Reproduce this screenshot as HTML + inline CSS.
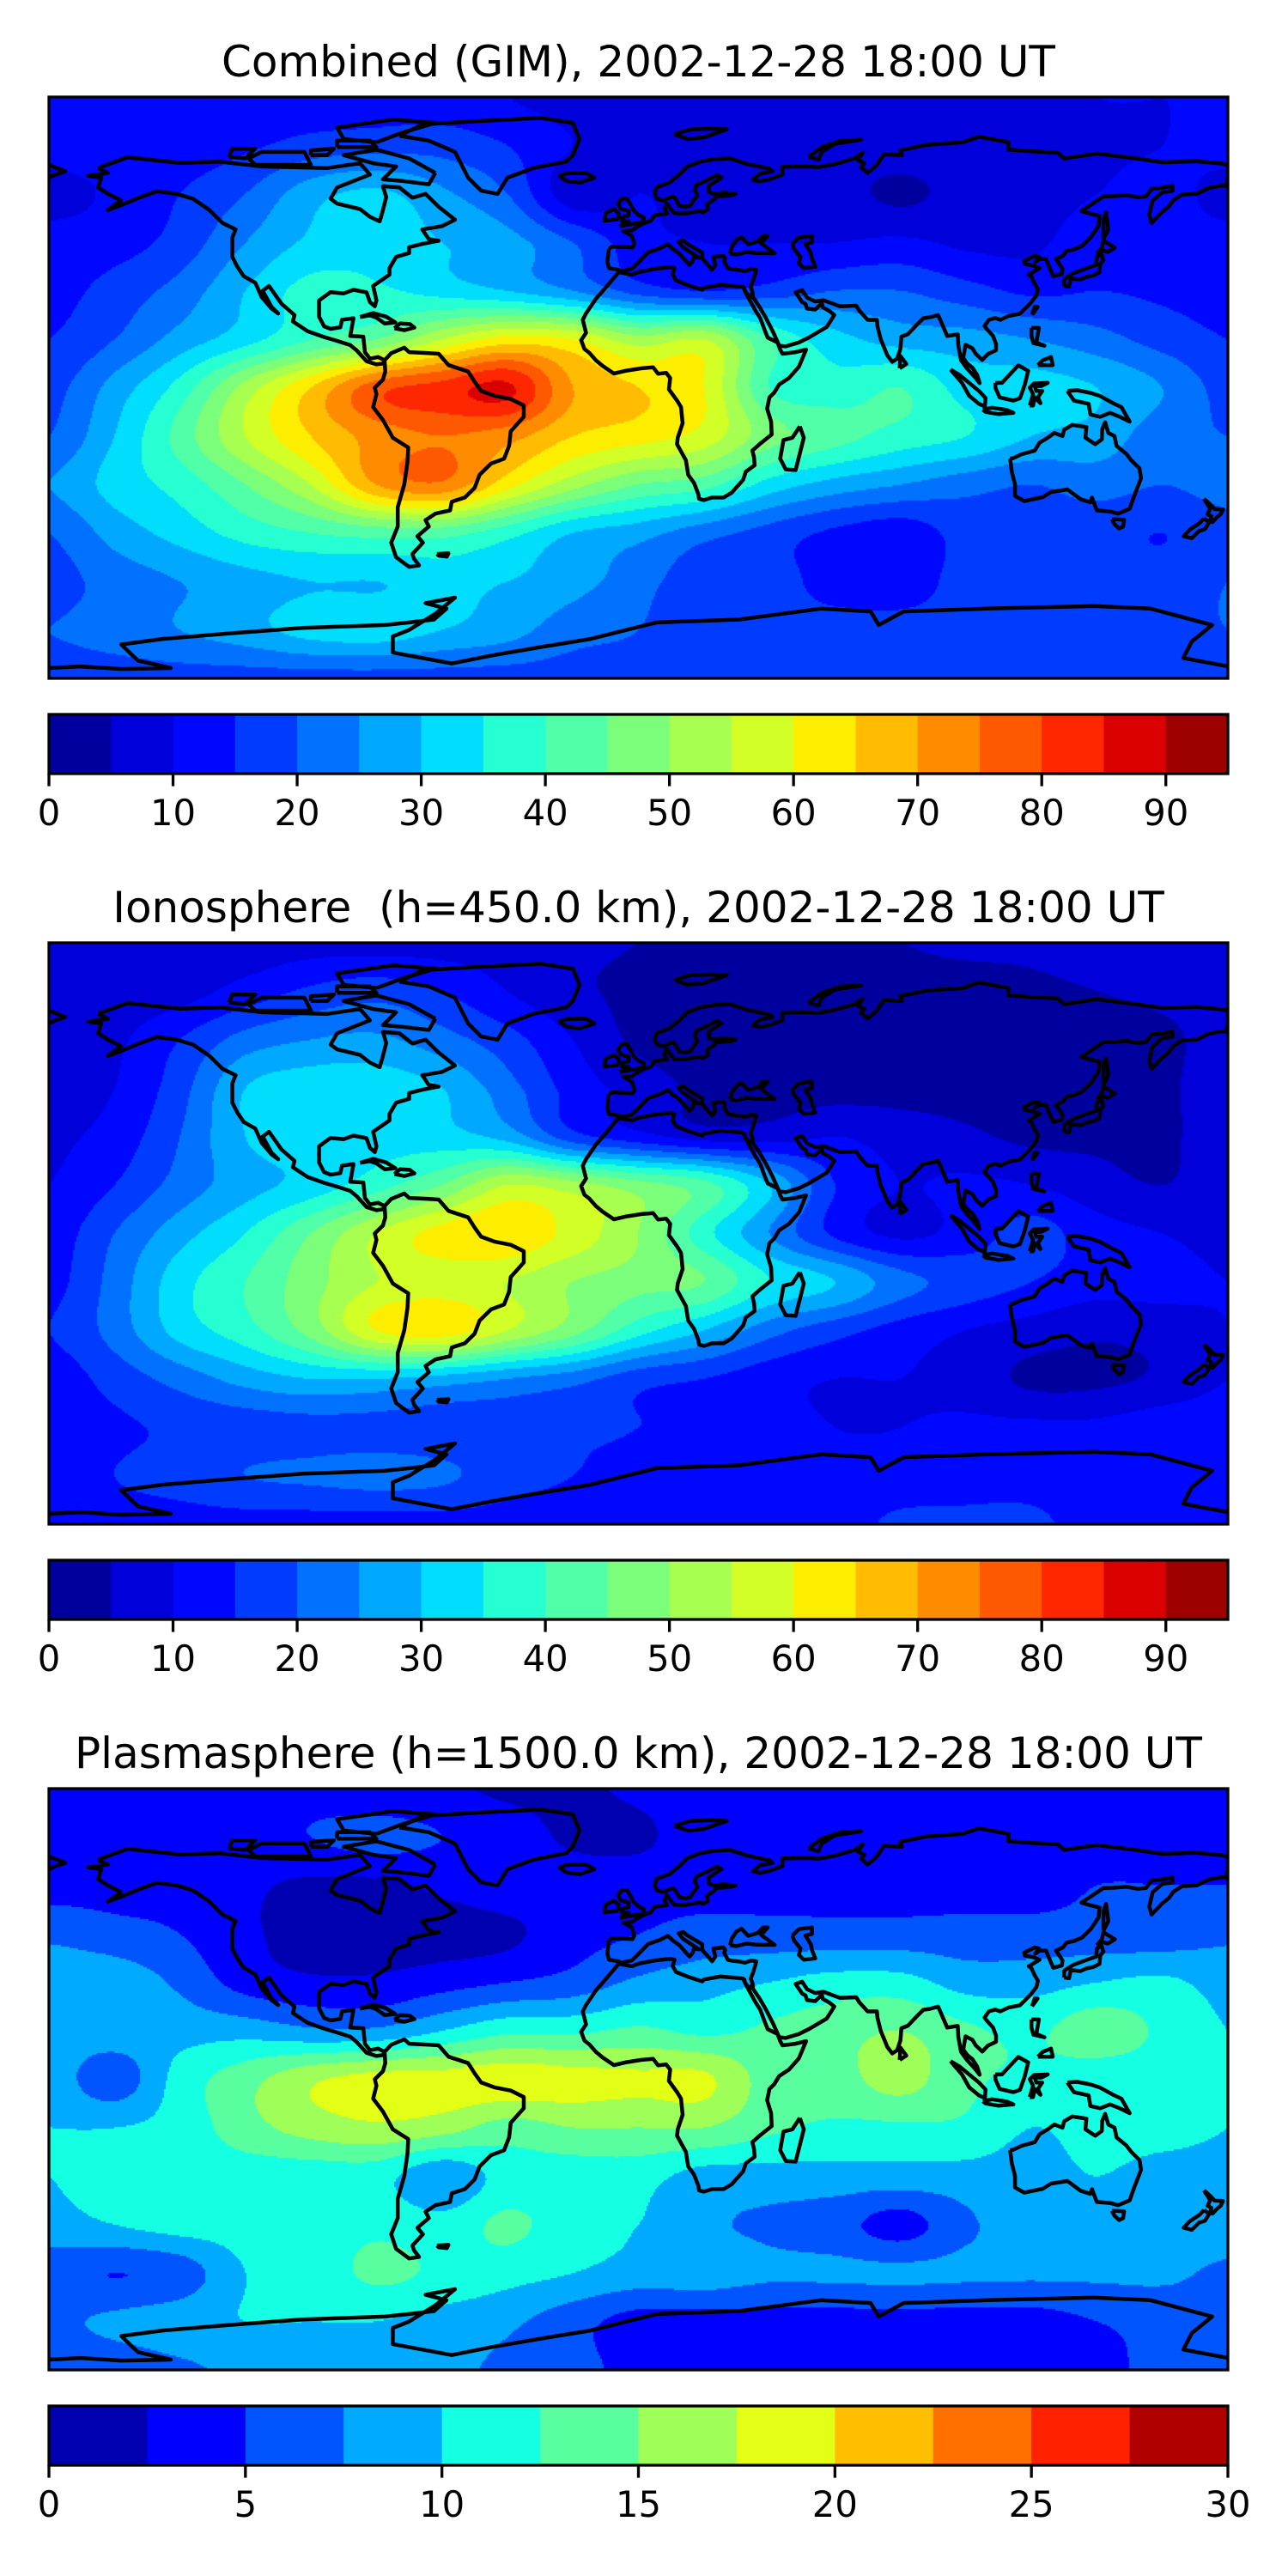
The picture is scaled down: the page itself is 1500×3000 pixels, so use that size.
<!DOCTYPE html>
<html><head><meta charset="utf-8"><title>TEC maps 2002-12-28 18:00 UT</title>
<style>
html,body{margin:0;padding:0;background:#fff;}
#page{position:relative;width:1500px;height:3000px;overflow:hidden;background:#fff;}
canvas{position:absolute;left:57px;}
svg{position:absolute;left:0;top:0;}
text{font-family:"DejaVu Sans","Liberation Sans",sans-serif;fill:#000;}
</style></head>
<body>
<div id="page">
<canvas id="c0" width="1373" height="677" style="top:113px"></canvas>
<canvas id="c1" width="1373" height="677" style="top:1098px"></canvas>
<canvas id="c2" width="1373" height="677" style="top:2083px"></canvas>
<svg id="ov" width="1500" height="3000" xmlns="http://www.w3.org/2000/svg"></svg>
</div>
<script>
// ---------- data: grid latitudes (rows) and longitudes (cols) ----------
const gridLats = [90,75,60,45,30,15,0,-15,-30,-45,-60,-75,-90];
const gridLons = [-180,-160,-140,-120,-100,-80,-60,-40,-20,0,20,40,60,80,100,120,140,160,180];

const combinedTEC = [
[10,10,10,10,11,12,12,10,8,8,8,8,8,8,8,9,10,10,10],
[12,12,12,14,17,18,18,15,10,8,8,7,7,8,8,8,9,10,12],
[8,11,15,20,28,31,26,20,7,10,8,8,7,4,7,8,10,12,8],
[12,13,17,25,31,33,30,27,20,12,10,10,10,11,9,9,13,12,12],
[13,17,22,30,37,36,33,30,25,18,15,17,20,20,17,14,15,14,13],
[15,20,27,33,40,45,55,62,60,52,55,40,32,28,27,25,22,18,15],
[18,27,37,52,65,78,82,86,70,65,60,40,37,40,33,32,30,25,18],
[20,30,42,55,65,72,75,72,65,62,58,47,42,38,35,30,28,22,20],
[25,32,37,45,55,70,74,62,52,45,42,33,28,25,22,20,22,20,22],
[20,27,32,37,40,42,42,37,30,27,22,18,14,12,17,18,17,15,18],
[18,22,25,28,30,30,32,30,27,22,17,17,13,12,17,17,17,17,20],
[20,22,25,28,32,33,30,27,22,20,18,17,17,17,17,17,17,18,20],
[18,18,18,18,18,18,18,18,18,19,19,18,17,17,17,17,17,18,18]
];
const ionosphereTEC = [
[7,7,7,7,8,8,8,8,6,5,5,5,5,5,6,6,7,7,7],
[7,7,8,12,16,18,15,10,6,4,3,3,3,3,3,4,5,6,7],
[7,9,15,22,25,26,22,17,10,4,3,3,3,3,3,3,3,4,7],
[8,10,18,30,33,33,30,22,13,8,4,3,3,3,3,3,3,4,8],
[9,12,20,30,33,33,32,28,17,12,8,8,10,8,6,4,4,4,8],
[10,15,22,28,32,38,45,55,52,47,42,30,15,10,11,10,7,5,8],
[12,20,28,35,45,55,62,64,58,50,37,25,14,9,12,17,12,10,8],
[13,22,33,40,48,55,57,55,50,47,45,35,30,22,18,15,12,12,10],
[15,22,32,38,47,60,63,55,47,37,30,22,17,13,10,8,6,7,10],
[12,17,22,27,30,30,28,25,22,17,15,12,10,10,8,4,4,6,10],
[12,14,16,17,18,18,17,17,16,15,13,12,10,10,11,11,11,13,13],
[12,15,17,20,21,22,21,17,15,14,12,12,12,12,13,13,12,12,12],
[13,13,13,13,13,13,13,13,13,13,13,13,13,16,16,16,13,13,13]
];
const plasmasphereTEC = [
[4,4,4,4,4,3,3,2,2,3,4,4,4,4,4,4,4,4,4],
[4,4,4,4,5,6,5,4,2,2,4,4,4,4,4,4,4,4,4],
[4,4,4,3,2,2,3,4,4,4,4,4,4,4,4,4,5,5,5],
[7,6,5,3,1.5,1.5,1.5,2,4,5,6,6,6,6,6,6,6,6,7],
[9,9,7,4,3,3,4,5,6,8,9,10,11,11,9,9,10,10.5,9],
[9,9,9,9,8,8,10,12,12,13,12,13,14,15,13,12,14,12,10],
[9,6,11,14,17,18.5,18.5,19,18.5,18,18,14,14,16,13,12,11,11,10],
[10,10,11,14,16,17,16,14,15,15,15,13,12,12,12,10,11,11,10],
[10,11,11,11,11,11,8,11,11,11,9,9,9,9,9,9,10,9,9],
[9,10,11,11,11,12,11,13,11,10,8,7,6,4,7,9,9,9,9],
[6,5,6,10,11,13,12,11,10,9,9,8,8,8,8,8,8,8,7],
[7,8,9,10,10,10,9,8,6,4,4,4,4,4,4,4,5,6,7],
[6,6,7,8,8,8,8,7,6,4,4,4,4,4,4,4,4,6,6]
];
const levelsA = [0,5,10,15,20,25,30,35,40,45,50,55,60,65,70,75,80,85,90,95];
const levelsB = [0,2.5,5,7.5,10,12.5,15,17.5,20,22.5,25,27.5,30];
const ticksA = [0,10,20,30,40,50,60,70,80,90];
const ticksB = [0,5,10,15,20,25,30];
const titles = ["Combined (GIM), 2002-12-28 18:00 UT",
 "Ionosphere  (h=450.0 km), 2002-12-28 18:00 UT",
 "Plasmasphere (h=1500.0 km), 2002-12-28 18:00 UT"];

// ---------- coastlines (lon, lat) ----------
const coasts = {
"north-america":[[-165,68],[-156,71.3],[-140,69.6],[-128,70],[-115,68.5],[-95,68],[-85,69.5],[-82,66],[-87,64],[-92,62],[-94,58.5],[-92,57],[-85,55.3],[-82,52.9],[-79,51.5],[-78,55],[-77,59],[-78,62.4],[-73,62],[-69,58.8],[-65,60],[-61,56],[-56,52],[-60,50],[-66,49],[-64,46],[-61,45.5],[-66,44.5],[-70,43.5],[-70,41.7],[-74,40.5],[-76,37],[-76,35],[-81,31.5],[-80,27],[-80.5,25.2],[-82,26.5],[-83,29.5],[-87,30.3],[-90,29.2],[-94,29.6],[-97.5,27],[-97.5,22],[-96,19],[-94,18.2],[-91,18.7],[-90.5,21],[-87,21.5],[-88,16],[-84,15.8],[-83.5,11],[-82,9],[-79.5,9.5],[-77.5,8.5],[-78,7.5],[-80,7.2],[-83,8.2],[-86,11.5],[-88,13.2],[-92,14.5],[-96,15.7],[-101,17.5],[-105.5,20.5],[-105,22.5],[-109,26],[-112.8,31.5],[-114.7,30],[-112,25],[-110,23],[-112,24.5],[-115,28],[-117,32.5],[-120.5,34.5],[-122.5,37.5],[-124,40.5],[-124,46.5],[-123,49],[-127,51],[-131,55],[-136,58.5],[-141,60],[-147,60.8],[-152,59],[-158,56.5],[-162,55],[-158,58],[-162,60],[-165,62],[-164,65],[-168,65.6],[-162,66.5],[-165,68]],
"greenland":[[-73,78],[-66,81.5],[-50,82.5],[-30,83.5],[-20,82],[-18,77],[-20,72],[-22,70],[-32,68],[-40,65],[-43,60],[-48,61],[-52,65],[-54,69],[-56,73],[-64,76.5],[-73,78]],
"baffin":[[-62,66.5],[-64,63],[-72,64],[-78,64.5],[-74,68.5],[-81,69.5],[-90,72],[-80,73.7],[-70,71],[-62,66.5]],
"ellesmere":[[-80,76],[-90,77],[-92,80.5],[-75,83],[-62,82],[-72,79],[-80,76]],
"victoria":[[-117,69],[-100,69],[-102,73],[-115,73],[-119,71],[-117,69]],
"banks":[[-125,71.5],[-120,71],[-117,74],[-124,74],[-125,71.5]],
"devon":[[-92,74.5],[-80,74.5],[-82,76.5],[-92,76.5],[-92,74.5]],
"somerset":[[-100,72],[-95,72],[-93,74],[-100,73.5],[-100,72]],
"south-america":[[-77.5,8.5],[-75.5,10.7],[-71.5,12.4],[-70,11],[-64,10.7],[-61,10.5],[-58,7],[-52,5],[-50,1.8],[-48,-1],[-44,-2.5],[-39,-3.5],[-35,-5.5],[-35,-9],[-39,-13.5],[-39.5,-18],[-41,-22],[-45,-23.5],[-48.5,-27],[-50,-31],[-53,-34],[-57,-35.3],[-57.5,-38],[-62,-39],[-65,-41],[-64,-43],[-67.5,-46],[-65.8,-48],[-69,-51.5],[-68.5,-53],[-67,-55],[-70,-55.5],[-74,-52.5],[-75.5,-48],[-73.5,-43],[-73.5,-37],[-71.5,-30],[-70.5,-23],[-70.3,-18.5],[-75,-15.5],[-78,-10],[-81,-6],[-80,-2],[-80.5,0],[-78,2.5],[-77.3,5],[-77.5,8.5]],
"africa":[[-6,35.8],[-10,31],[-13,27.5],[-16,23],[-17,21],[-16,17],[-17.5,14.7],[-16.5,12],[-15,10.8],[-13,8.5],[-11,6.8],[-7.5,4.4],[-4,5.2],[1,6],[4.5,6.3],[6,4.3],[8.5,4.6],[9.7,3],[9.3,-0.5],[11.8,-4],[13,-6],[13.5,-11],[12,-15.5],[11.8,-17.5],[14.5,-22.5],[15.2,-27],[17,-29.5],[18.3,-33],[18.5,-34.4],[20,-34.8],[22.5,-34],[26,-34],[28.5,-32.5],[32,-28.5],[32.8,-26],[35.5,-24],[35.3,-21.5],[34.8,-19.5],[37,-17.5],[40.7,-14.5],[40.5,-10.5],[39.3,-6.5],[40,-3],[41.5,-1.5],[43,1],[46,3],[49,6.5],[51.2,11.8],[48,11],[44,10.5],[43.3,11.8],[42.5,14],[39.5,15.5],[38.5,18],[37.2,21.5],[35.7,23.9],[33.5,28],[32.5,30],[32,31.2],[30,31.4],[25,31.8],[20,30.9],[19.5,30.3],[15.5,31.6],[11.5,33.2],[10.5,35],[11,37],[9.8,37.3],[5,36.8],[0,35.8],[-2,35],[-6,35.8]],
"madagascar":[[49.3,-12],[50.5,-15.5],[48,-25.5],[45,-25.3],[43.3,-22],[44.3,-16.2],[47,-15.5],[49.3,-12]],
"eurasia":[[-9,43],[-9.5,39],[-9,37],[-6,36.5],[-5.5,36],[-2,36.8],[0,38.8],[3,41.9],[6.5,43.1],[9,44.4],[10.5,43],[12.5,41.5],[15.6,38],[16.5,39],[17,40.5],[18.5,40.2],[16,41.9],[13.5,43.6],[12.3,45.2],[13.7,45.6],[15,44.5],[19.5,41.8],[19.5,40],[21,38.3],[22.5,36.5],[23.5,38],[22.9,40.5],[26,40.8],[26.5,40],[26.2,39.2],[27.3,37],[28.5,36.7],[30.5,36.5],[32.5,36.1],[34.5,36.8],[36,36.5],[35.6,35],[35,33],[34.3,31.2],[34.9,29.5],[35,28],[37,25],[39,21.5],[41,17.5],[43,13],[45,12.8],[49,14],[52,15.5],[55,17.3],[57.5,18.8],[59.8,22.5],[58.5,23.6],[56.3,24.9],[56,26.2],[54,24.2],[51.5,24.5],[51,26],[50,26.5],[48,29.5],[50,30.2],[51.5,27.9],[54,26.7],[56.5,27.1],[61.5,25.2],[66.5,25.4],[67.5,23.8],[70,21],[72.8,21],[73,19],[74,15],[76,10],[77.5,8],[79,9],[80,12],[80.3,15.8],[82.3,16.6],[85,19.5],[87,21.5],[89,21.8],[91.5,22.5],[92.3,20.7],[94.3,16],[97.5,16.5],[97.7,13],[98.5,8.5],[100.3,6],[103,3],[104.2,1.4],[103.4,4],[102,6.2],[100.5,7.4],[99.2,9.2],[99.9,13.3],[102,12.2],[103,10.5],[105,8.6],[106.7,10.4],[109.2,11.6],[109.2,13.5],[108.3,16],[106.5,18],[105.7,19.1],[107,21],[109,21.6],[110.5,21],[113,22.2],[116.5,22.9],[119.6,26],[121.5,28.5],[122,30.5],[121,32.2],[120,34.4],[119.2,35],[122.5,37],[120.5,37.8],[118,38.3],[117.8,39.2],[121,40.8],[122.3,40.5],[121.2,38.9],[122.5,39.8],[124.5,39.8],[125.3,37.7],[126.7,34.5],[129.3,35.2],[129.5,36.8],[128.3,38.7],[127.5,39.8],[129.7,40.9],[130.7,42.3],[133,42.8],[135.5,43.9],[138.2,46.6],[140.5,50.1],[140.8,53.2],[137.5,54],[135.3,54.7],[138,56.5],[142,59.2],[145,59.3],[149,59.6],[152.5,59],[155,59.2],[156.8,61.6],[160,61.9],[163,62.5],[163.2,61],[160,60.5],[157,57.9],[156,53.5],[156.7,51],[158.5,52.9],[160,54.5],[162,56.1],[163.3,58],[166,59.8],[170.5,60],[174,61.8],[177.5,62.5],[179.5,62.5],[180,65],[180,69],[178,69.4],[170.5,70.1],[160,69.8],[152,71],[140,72.5],[130,71],[128,72.8],[120,73.2],[113,73.7],[113,76],[104,77.7],[99,76],[88,75.2],[80,73.5],[80.5,72],[75,72.3],[72.8,69],[70,66.5],[68,68.3],[69,69.5],[67,70.5],[68.5,72.7],[66,71],[60,69.2],[55,68.3],[52,68.5],[44,68.4],[44,66],[40,64.5],[37,63.9],[35,64.4],[37,66.2],[41,67],[40,67.8],[33,69.3],[28,71],[23.5,70.8],[19,70],[15,68.5],[12.5,66],[9.5,63.5],[5.5,62],[5,60],[5.7,58.5],[7.5,58],[10.5,59.2],[11.3,58.5],[12.5,56.3],[14.5,56],[16,56.5],[16.5,57.5],[18,59.5],[17.2,61.4],[17.8,62.8],[21.3,64.4],[24,65.8],[25.4,65.1],[21.5,62.5],[21.5,60.6],[23,60],[26,60.4],[29.7,60],[28,59.5],[23.5,59.2],[23.4,58.5],[21.6,57.3],[21,56.8],[21.2,55.2],[19.7,54.3],[18.6,54.7],[14,53.9],[11,54],[10,55.2],[8.6,57.1],[8,55.5],[8.7,53.9],[5,53.4],[3.8,51.7],[1.6,50.9],[-1,49.4],[-1.9,48.7],[-4.6,48.5],[-2,47],[-1.2,44.5],[-1.8,43.4],[-8,43.7],[-9,43]],
"chukotka-west":[[-180,65],[-178,66],[-175,67],[-180,69]],
"sinai":[[32.3,31.2],[32.5,29.9],[34,28],[34.9,29.5]],
"black-sea":[[28,41.5],[28.5,43.5],[30,45.8],[31.5,46.6],[33.5,44.4],[36.5,45.3],[38,47],[39.5,47],[37.5,44.7],[41.6,41.6],[36,41.7],[33,42],[30,41.2],[28,41.5]],
"caspian":[[47,44.5],[49,46.5],[53,47],[53,45],[51,44.5],[52.7,41.7],[53,40],[54,37.4],[50.5,37],[49,38.5],[49.5,40.5],[47.5,43],[47,44.5]],
"britain":[[-5.7,50],[1.4,51.3],[1.7,52.7],[0,53.5],[-1.5,55],[-2,56],[-3.5,58.6],[-5,58.6],[-6.2,57],[-5.5,55.5],[-3,54.7],[-3,53.3],[-4.8,52.8],[-5,51.7],[-3,51.5],[-5.7,50]],
"ireland":[[-6,52.2],[-6,54],[-7.5,55.3],[-10,54],[-10.3,51.7],[-6,52.2]],
"iceland":[[-22,64],[-24,65.5],[-22,66.4],[-16,66.5],[-13.5,65],[-18,63.5],[-22,64]],
"honshu":[[130,31.5],[131.5,31.3],[132,33.8],[135,33.5],[136.8,34.3],[139,34.8],[140.8,35.7],[141,38.3],[142,39.5],[141.4,41.4],[140,40.5],[139.8,38],[137,37],[133,35.5],[131,34.3],[130,33.5],[130,31.5]],
"hokkaido":[[140,41.5],[141.5,42.6],[143.3,42],[145.5,43.3],[142,45.5],[141.5,43.3],[140,41.5]],
"sakhalin":[[142,46],[143.5,49],[142.8,54.3],[142,52],[142,46]],
"taiwan":[[120.2,22.6],[121.9,25],[121,25],[120.2,22.6]],
"sri-lanka":[[79.8,6],[81.8,7.3],[80,9.8],[79.8,6]],
"luzon":[[120,18.5],[122.3,18.5],[121.5,14],[124,13],[120.6,13.8],[120,16],[120,18.5]],
"mindanao":[[122,7],[126.5,7],[126,9.5],[123.5,8.5],[122,7]],
"borneo":[[109,1.5],[111,1.5],[116,6.9],[119,5.2],[118,1],[117.5,-0.5],[116.5,-3.3],[114.5,-4],[110.3,-3],[109,0],[109,1.5]],
"sumatra":[[95.3,5.6],[98,4],[104,-1],[106,-3.2],[105.8,-5.8],[104,-5],[101,-2.5],[98.8,1.5],[95.3,5.6]],
"java":[[105.2,-6.8],[108,-6.2],[112.5,-6.9],[114.5,-7.8],[110,-8.2],[106,-7.5],[105.2,-6.8]],
"sulawesi":[[119.5,-5.5],[120.5,-2],[119.5,0],[120.8,1.3],[125,1.5],[123,0.5],[121,0.5],[121.5,-1],[123.3,-1],[122,-3],[122.8,-4.8],[121,-3],[120.5,-5.5],[119.5,-5.5]],
"new-guinea":[[131,-1],[134,-0.8],[138,-1.6],[141,-2.6],[145,-4.8],[147.5,-6],[150,-10.5],[147,-9],[144,-7.8],[141,-9],[138,-8.3],[137.5,-5],[133,-4],[132,-2.5],[131,-1]],
"australia":[[113.5,-22],[114,-26],[115,-30],[115,-33.5],[117.8,-35.1],[123.5,-33.9],[126,-32.3],[131,-31.5],[135,-34.5],[138,-35.5],[138.5,-34],[140,-38],[144,-38.3],[146.5,-39],[150,-37.5],[151.3,-33.8],[153.5,-28],[153,-25],[150.5,-22.5],[149,-20.5],[146,-18],[145.4,-15],[143.5,-14],[142.5,-10.7],[141.6,-13],[141.5,-16],[139.5,-17.5],[136.5,-15.5],[136.8,-12.2],[132.5,-11.5],[130,-13],[129.5,-15],[127,-14],[125,-15.5],[122.5,-17],[121,-19.5],[117,-20.6],[114.5,-21.8],[113.5,-22]],
"tasmania":[[144.6,-40.7],[148.3,-40.9],[148,-43],[146.8,-43.6],[145.3,-42.2],[144.6,-40.7]],
"nz-north":[[172.7,-34.4],[174.5,-36],[176,-37.6],[178.5,-37.7],[177.8,-39.2],[176.8,-40],[175.3,-41.6],[174.6,-41.2],[175,-39.8],[173.8,-39.2],[174.6,-37.5],[172.7,-34.4]],
"nz-south":[[172.7,-40.5],[174.3,-41.7],[173,-43.8],[171.2,-44.4],[169,-46.6],[166.5,-46],[168.3,-44],[171.3,-42],[172.7,-40.5]],
"cuba":[[-85,21.9],[-81,23.1],[-77,22],[-74.2,20.2],[-77.5,19.9],[-80,21.7],[-82,22.4],[-85,21.9]],
"hispaniola":[[-74.5,18.4],[-72.8,19.9],[-69.8,19.7],[-68.4,18.6],[-71.5,17.8],[-74.5,18.4]],
"falklands":[[-61.5,-51.5],[-58,-51.3],[-58.5,-52.3],[-61,-52],[-61.5,-51.5]],
"svalbard":[[11,78.5],[16,80],[22,80.2],[27,80],[20,77.5],[15,77],[11,78.5]],
"novaya-zemlya":[[52,71.5],[56,74.5],[62,76.5],[68,76.8],[60,75.5],[56,73],[55,70.6],[52,71.5]],
"antarctica":[[-180,-86.8],[-170.4,-86.3],[-157.9,-87.1],[-142.8,-86.8],[-152.8,-84.5],[-155.4,-82],[-157.9,-79.5],[-145.3,-77.8],[-125.2,-76.1],[-102.6,-74.4],[-77.4,-73.5],[-70,-72.7],[-62.4,-71.8],[-58.6,-68.4],[-65,-66.7],[-56,-65],[-62,-70],[-70,-75],[-75,-77],[-75,-82],[-57,-85.4],[-44.7,-82.9],[-29.7,-80.3],[-14.6,-77.8],[5.5,-72.7],[30.7,-71.8],[55.8,-68.4],[70.9,-69.3],[73.4,-73.5],[81,-69.3],[106.1,-68.4],[138.8,-67.6],[156.4,-68.4],[175.2,-73.5],[169,-78.6],[166.4,-83.7],[180,-86.3]]
};

// ---------- layout ----------
const MAP_X = 57, MAP_W = 1373, MAP_H = 677;
const panelTops = [113, 1098, 2083];
const NS = "http://www.w3.org/2000/svg";

function jet(t){
  function seg(pts){ for(let i=1;i<pts.length;i++){ if(t<=pts[i][0]){ const a=pts[i-1],b=pts[i]; return a[1]+(b[1]-a[1])*(t-a[0])/(b[0]-a[0]); } } return pts[pts.length-1][1]; }
  const r=seg([[0,0],[0.35,0],[0.66,1],[0.89,1],[1,0.5]]);
  const g=seg([[0,0],[0.125,0],[0.375,1],[0.64,1],[0.91,0],[1,0]]);
  const b=seg([[0,0.5],[0.11,1],[0.34,1],[0.65,0],[1,0]]);
  return [Math.round(r*255),Math.round(g*255),Math.round(b*255)];
}
function levelColors(levels){ const n=levels.length-1; const out=[]; for(let i=0;i<n;i++) out.push(jet((i+0.5)/n)); return out; }
function cr(p0,p1,p2,p3,t){ return 0.5*((2*p1)+(-p0+p2)*t+(2*p0-5*p1+4*p2-p3)*t*t+(-p0+3*p1-3*p2+p3)*t*t*t); }
function sample(grid,lon,lat){
  const nr=gridLats.length, nc=gridLons.length;
  const gx=(lon-gridLons[0])/(gridLons[1]-gridLons[0]);
  const gy=(gridLats[0]-lat)/(gridLats[0]-gridLats[1]);
  const ix=Math.min(nc-2,Math.max(0,Math.floor(gx))), iy=Math.min(nr-2,Math.max(0,Math.floor(gy)));
  const tx=gx-ix, ty=gy-iy;
  const row=j=>{ const r=grid[Math.min(nr-1,Math.max(0,j))]; const g=i=>r[Math.min(nc-1,Math.max(0,i))];
    return cr(g(ix-1),g(ix),g(ix+1),g(ix+2),tx); };
  return cr(row(iy-1),row(iy),row(iy+1),row(iy+2),ty);
}
function xOf(lon){ return MAP_X + (lon+180)/360*MAP_W; }
function yOf(lat,top){ return top + (90-lat)/180*MAP_H; }

function drawField(canvasId, grid, levels){
  const cv=document.getElementById(canvasId), ctx=cv.getContext("2d");
  const img=ctx.createImageData(MAP_W,MAP_H), cols=levelColors(levels);
  const step=levels[1]-levels[0], n=levels.length-1, S=2;
  for(let py=0;py<MAP_H;py+=S){
    const lat=90-(py+S/2)/MAP_H*180;
    for(let px=0;px<MAP_W;px+=S){
      const lon=(px+S/2)/MAP_W*360-180;
      const v=sample(grid,lon,lat);
      let k=Math.floor((v-levels[0])/step); k=Math.max(0,Math.min(n-1,k));
      const c=cols[k];
      for(let dy=0;dy<S&&py+dy<MAP_H;dy++) for(let dx=0;dx<S&&px+dx<MAP_W;dx++){
        const o=((py+dy)*MAP_W+(px+dx))*4; img.data[o]=c[0]; img.data[o+1]=c[1]; img.data[o+2]=c[2]; img.data[o+3]=255; }
    }
  }
  ctx.putImageData(img,0,0);
}

const ov=document.getElementById("ov");
const defs=document.createElementNS(NS,"defs"); ov.appendChild(defs);

function buildPanel(idx, grid, levels, ticks, names){
  const top=panelTops[idx];
  drawField("c"+idx, grid, levels);
  const t=document.createElementNS(NS,"text");
  
  
  t.setAttribute("x", MAP_X+MAP_W/2); t.setAttribute("y", top-24);
  t.setAttribute("text-anchor","middle"); t.setAttribute("font-size","50");
  t.setAttribute("style","white-space:pre"); t.textContent=titles[idx];
  ov.appendChild(t);
  const cp=document.createElementNS(NS,"clipPath"); cp.setAttribute("id","clip"+idx);
  const cr2=document.createElementNS(NS,"rect"); cr2.setAttribute("x",MAP_X); cr2.setAttribute("y",top); cr2.setAttribute("width",MAP_W); cr2.setAttribute("height",MAP_H);
  cp.appendChild(cr2); defs.appendChild(cp);
  const g=document.createElementNS(NS,"g"); g.setAttribute("clip-path","url(#clip"+idx+")");
  
  
  for(const key in coasts){
    const pts=coasts[key];
    let d=""; pts.forEach((p,i)=>{ d+=(i?"L":"M")+xOf(p[0]).toFixed(1)+" "+yOf(p[1],top).toFixed(1); });
    const path=document.createElementNS(NS,"path");
    
    
    path.setAttribute("d",d); path.setAttribute("fill","none"); path.setAttribute("stroke","#000");
    path.setAttribute("stroke-width","4.5"); path.setAttribute("stroke-linejoin","round");
    g.appendChild(path);
  }
  ov.appendChild(g);
  const fr=document.createElementNS(NS,"rect");
  
  
  fr.setAttribute("x",MAP_X); fr.setAttribute("y",top); fr.setAttribute("width",MAP_W); fr.setAttribute("height",MAP_H);
  fr.setAttribute("fill","none"); fr.setAttribute("stroke","#000"); fr.setAttribute("stroke-width","3.3");
  ov.appendChild(fr);
  const cbTop=top+719, cbH=69, vmin=levels[0], vmax=levels[levels.length-1];
  const cx=v=>MAP_X+(v-vmin)/(vmax-vmin)*MAP_W;
  const cols=levelColors(levels);
  const cbg=document.createElementNS(NS,"g");
  
  
  for(let i=0;i<levels.length-1;i++){
    const r=document.createElementNS(NS,"rect");
    
    
    const x0=cx(levels[i]), x1=cx(levels[i+1]);
    r.setAttribute("x",x0); r.setAttribute("y",cbTop); r.setAttribute("width",x1-x0+0.6); r.setAttribute("height",cbH);
    r.setAttribute("fill","rgb("+cols[i].join(",")+")");
    cbg.appendChild(r);
  }
  const cf=document.createElementNS(NS,"rect");
  cf.setAttribute("x",MAP_X); cf.setAttribute("y",cbTop); cf.setAttribute("width",MAP_W); cf.setAttribute("height",cbH);
  cf.setAttribute("fill","none"); cf.setAttribute("stroke","#000"); cf.setAttribute("stroke-width","3.3");
  cbg.appendChild(cf);
  ticks.forEach(v=>{
    const x=cx(v);
    const ln=document.createElementNS(NS,"line");
    
    
    ln.setAttribute("x1",x); ln.setAttribute("x2",x); ln.setAttribute("y1",cbTop+cbH); ln.setAttribute("y2",cbTop+cbH+14.6);
    ln.setAttribute("stroke","#000"); ln.setAttribute("stroke-width","3.3");
    cbg.appendChild(ln);
    const tl=document.createElementNS(NS,"text");
    
    
    tl.setAttribute("x",x); tl.setAttribute("y",cbTop+cbH+60); tl.setAttribute("text-anchor","middle");
    tl.setAttribute("font-size","41.7"); tl.textContent=String(v);
    cbg.appendChild(tl);
  });
  ov.appendChild(cbg);
}
buildPanel(0, combinedTEC, levelsA, ticksA, {title:'combined-title',coast:'combined-coastlines',frame:'combined-map-frame',cbar:'combined-colorbar'});
buildPanel(1, ionosphereTEC, levelsA, ticksA, {title:'ionosphere-title',coast:'ionosphere-coastlines',frame:'ionosphere-map-frame',cbar:'ionosphere-colorbar'});
buildPanel(2, plasmasphereTEC, levelsB, ticksB, {title:'plasmasphere-title',coast:'plasmasphere-coastlines',frame:'plasmasphere-map-frame',cbar:'plasmasphere-colorbar'});
</script>
</body></html>
